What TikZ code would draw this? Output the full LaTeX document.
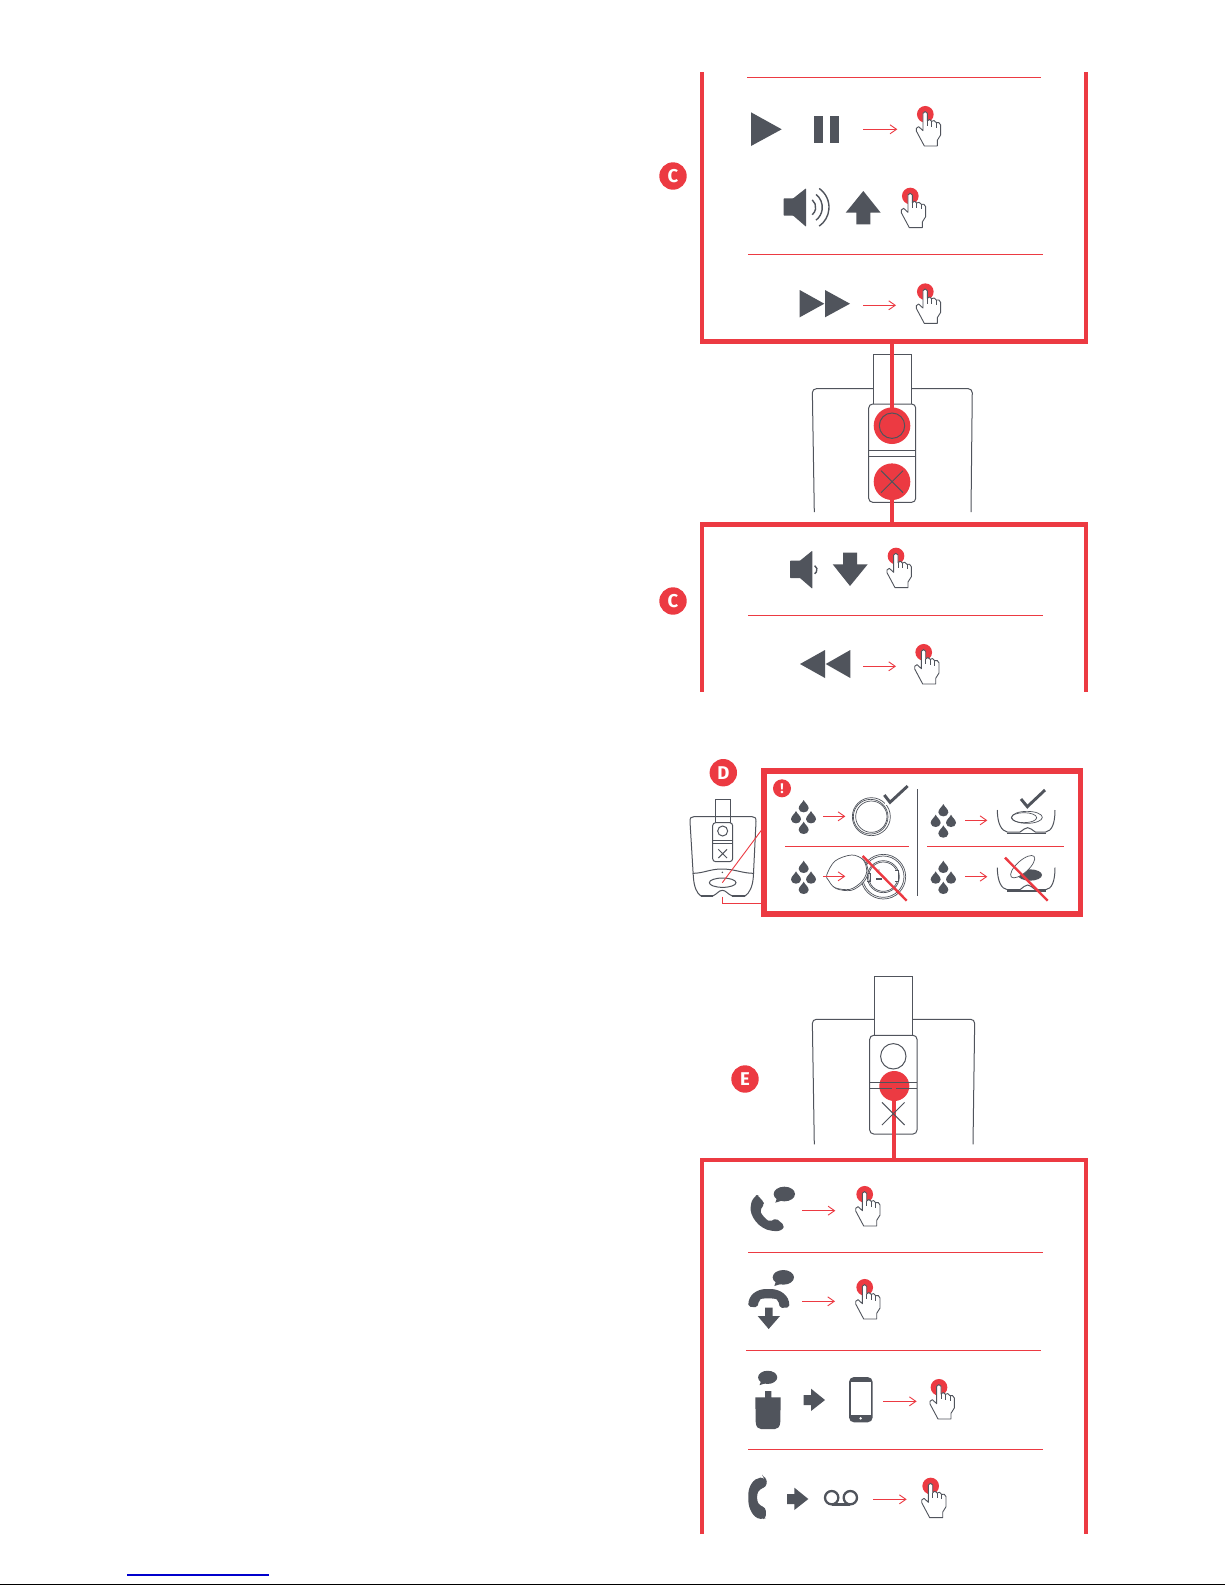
\documentclass[tikz,border=0pt]{standalone}
\usepackage{fontspec}
\setmainfont{Fira Sans}
\usetikzlibrary{arrows.meta}
\definecolor{rd}{HTML}{EC3A42}
\definecolor{gy}{HTML}{50545C}
\tikzset{
  frame/.style={draw=rd,line width=4.4pt,miter limit=10},
  sep/.style={draw=rd,line width=1pt},
  link/.style={draw=rd,line width=4pt},
  flowarrow/.style={draw=rd,line width=1pt,-{Straight Barb[length=6.5pt,width=9pt,line width=0.9pt]}},
  thin line/.style={draw=gy,line width=1pt},
  fine line/.style={draw=gy,line width=0.7pt},
  tick/.style={draw=gy,line width=2.9pt,line join=miter},
  wave/.style={draw=gy,line width=1.4pt},
  badge/.style={circle,fill=rd,text=white,inner sep=0pt,minimum size=27.4pt,font=\bfseries\fontsize{18.5}{18.5}\selectfont},
  strike/.style={draw=rd,line width=2.4pt},
}
% hand whose red dot is centred at x,y
\newcommand\handicon[2]{%
  \begin{scope}[shift={(#1,#2)},scale=1/3]
    \fill[rd] (0,0) circle (25);
    \draw[gy,line width=0.9pt,fill=white,line join=round]
      (-3,95) -- (-27,50) -- (-27,42) -- (-20,37) -- (-7,49) -- (-7,-3)
      .. controls (-6,-10) and (5,-10) .. (6,-3) -- (6,20)
      .. controls (8,14) and (18,14) .. (19,21)
      .. controls (22,17) and (31,18) .. (33,25)
      .. controls (37,22) and (45,25) .. (46,32)
      -- (46,62) -- (36,78) -- (36,95) -- cycle;
    \draw[gy,line width=0.9pt] (6,20) -- (6,36) (19,21) -- (19,37) (33,25) -- (33,40);
  \end{scope}}
\newcommand\flow[4]{%
  \coordinate (#1a) at (#2,#4);
  \coordinate (#1b) at (#3,#4);
  \draw[flowarrow] (#1a) -- (#1b);}
\newcommand\dropicon[2]{%
  \fill[gy,shift={(#1,#2)}] (0,-20) .. controls (3,-12) and (15,-5) .. (15,5)
    .. controls (15,13) and (7,17) .. (0,17)
    .. controls (-7,17) and (-15,13) .. (-15,5)
    .. controls (-15,-5) and (-3,-12) .. cycle;}
\newcommand\bubble[3]{% centre x,y ; scale
  \begin{scope}[shift={(#1,#2)},scale=#3]
    \fill[gy] (0,0) ellipse (32 and 22);
    \fill[gy] (-22,12) -- (-27,26) -- (-8,20) -- cycle;
  \end{scope}}
\newcommand\fatarrow[2]{% left x, centre y in px*3 scope
  \fill[gy,shift={(#1,#2)}] (0,-15) -- (22,-15) -- (22,-34) -- (64,0) -- (22,33) -- (22,15) -- (0,15) -- cycle;}
\begin{document}
\begin{tikzpicture}[x=1pt,y=-1pt]
\useasboundingbox (0,0) rectangle (1225,1585);
\fill[white] (0,0) rectangle (1225,1585);

% ---------- first frame ----------
\coordinate (f1a) at (702,72);
\coordinate (f1b) at (702,341.5);
\coordinate (f1c) at (1086,341.5);
\coordinate (f1d) at (1086,72);
\draw[frame] (f1a) -- (f1b) -- (f1c) -- (f1d);
\node[badge] (bc1) at (673,176) {C};
\draw[sep] (747,77.3) -- (1041,77.3);
\draw[sep] (748,254.3) -- (1043,254.3);
\fill[gy] (751,112.3) -- (781.7,129.3) -- (751,146) -- cycle;
\fill[gy] (814,116) rectangle (823,143);
\fill[gy] (830,116) rectangle (839,143);
\flow{p1}{863}{897.3}{129.3}
\handicon{925.3}{114.3}
% volume up
\fill[gy,rounded corners=0.6pt] (783.7,198.3) -- (793.3,198.3) -- (806,188.3) -- (806,226.7) -- (793.3,215.7) -- (783.7,215.7) -- cycle;
\draw[wave] (806,207.3) ++(-50:9.7) arc (-50:50:9.7);
\draw[wave] (806,207.3) ++(-52:16.3) arc (-52:52:16.3);
\draw[wave] (806,207.3) ++(-55:23) arc (-55:55:23);
\fill[gy] (863.3,191) -- (880.7,212.7) -- (870.3,212.7) -- (870.3,224.3) -- (856.3,224.3) -- (856.3,212.7) -- (845.7,212.7) -- cycle;
\handicon{910.3}{196}
% fast forward
\fill[gy] (799.7,290) -- (824.3,303.7) -- (799.7,317.3) -- cycle;
\fill[gy] (825,290) -- (850,303.7) -- (825,317.3) -- cycle;
\flow{p2}{863}{896}{305.3}
\handicon{925.3}{291.7}

% ---------- first device ----------
\draw[thin line,rounded corners=4pt] (814.3,512) -- (812.3,388.7) -- (972.3,388.7) -- (971,512);
\draw[thin line,fill=white] (873.3,404) -- (873.3,354.3) -- (911.7,354.3) -- (911.7,404);
\draw[thin line,fill=white,rounded corners=4pt] (868.7,404) rectangle (915.7,502.3);
\draw[thin line] (868.7,450.3) -- (915.7,450.3) (868.7,456.3) -- (915.7,456.3);
\node[circle,fill=rd,minimum size=36.6pt,inner sep=0pt] (b1) at (892,425.7) {};
\node[circle,fill=rd,minimum size=36.6pt,inner sep=0pt] (b2) at (892,481.7) {};
\draw[link] (892,341.5) -- (b1.center);
\draw[thin line] (b1) circle (12.7);
\draw[thin line] (881,470.7) -- (903,492.7) (903,470.7) -- (881,492.7);

% ---------- second frame ----------
\coordinate (f2a) at (702,691.7);
\coordinate (f2b) at (702,524.5);
\coordinate (f2c) at (1086,524.5);
\coordinate (f2d) at (1086,691.7);
\draw[link] (b2.south) -- (892,524.5);
\draw[frame] (f2a) -- (f2b) -- (f2c) -- (f2d);
\node[badge] (bc2) at (673,601) {C};
\fill[gy,rounded corners=0.6pt] (790,560.7) -- (800,560.7) -- (812.3,550.7) -- (812.3,588.7) -- (800,578) -- (790,578) -- cycle;
\draw[wave] (812.3,569.7) ++(-60:4.7) arc (-60:60:4.7);
\fill[gy] (850,586) -- (867.7,564.3) -- (857,564.3) -- (857,552.7) -- (843,552.7) -- (843,564.3) -- (832.7,564.3) -- cycle;
\handicon{896}{556}
\draw[sep] (748,615.7) -- (1043,615.7);
\fill[gy] (800,664) -- (825,650) -- (825,678) -- cycle;
\fill[gy] (825.7,664) -- (850.3,650) -- (850.3,678) -- cycle;
\flow{p3}{863}{896}{666.3}
\handicon{923.7}{652.3}

% ---------- section D ----------
\node[badge] (bd) at (723.3,772.7) {D};
\begin{scope}[shift={(670,750)},scale=1/3]
  % small device
  \draw[thin line] (60,215) .. controls (60,203) and (63,200) .. (72,200) -- (246,200)
     .. controls (255,200) and (258,203) .. (258,215) -- (250,380)
     .. controls (248,410) and (238,430) .. (225,438) -- (187,438)
     .. controls (172,432) and (168,421) .. (157,421) .. controls (146,421) and (142,432) .. (128,438)
     -- (93,438) .. controls (80,430) and (72,410) .. (70,380) -- cycle;
  \draw[gy,line width=1.3pt] (93,438) -- (128,438) (187,438) -- (225,438);
  \draw[thin line] (68,370) .. controls (100,370) and (120,357) .. (155,357) .. controls (196,357) and (216,370) .. (252,370);
  \fill[gy] (157,367) circle (2.5);
  \draw[thin line] (135,218) -- (135,148) -- (182,148) -- (182,218);
  \draw[thin line,fill=white,rounded corners=3pt] (128,218) rectangle (188,335);
  \draw[thin line] (128,272) -- (188,272) (128,280) -- (188,280);
  \draw[thin line] (158,243) circle (15);
  \draw[thin line] (145,298) -- (171,324) (171,298) -- (145,324);
  \draw[thin line] (158,398) ellipse (40 and 14);
  \coordinate (ov) at (157,398);
  \coordinate (fl) at (277,237);
  \draw[rd,line width=0.9pt] (ov) -- (fl);
  \coordinate (elb1) at (157,440);
  \coordinate (elb2) at (157,460);
  \coordinate (elb3) at (277,460);
  \draw[rd,line width=0.9pt] (elb1) -- (elb2) -- (elb3);
  % frame
  \draw[draw=rd,line width=5.5pt,fill=white] (281.5,63) rectangle (1231,492);
  \node[circle,fill=rd,text=white,inner sep=0pt,minimum size=18pt,font=\bfseries\fontsize{14}{14}\selectfont] (ex) at (336,115) {!};
  % drops
  \dropicon{401}{170}\dropicon{378}{203}\dropicon{423}{203}\dropicon{401}{235}
  \dropicon{401}{352}\dropicon{378}{384}\dropicon{423}{384}\dropicon{401}{415}
  \dropicon{820}{182}\dropicon{797}{214}\dropicon{843}{214}\dropicon{820}{246}
  \dropicon{820}{352}\dropicon{797}{384}\dropicon{843}{384}\dropicon{820}{415}
  \draw[thin line] (742,117) -- (742,437);
  \draw[sep] (345,289) -- (717,289);
  \draw[sep] (771,289) -- (1182,289);
  % ring with check
  \draw[fine line] (604,200) circle (57);
  \draw[fine line] (604,200) circle (47);
  \draw[fine line] (602,200) circle (52);
  \fill[white] (645,128) rectangle (672,165);
  \draw[tick] (643,135) -- (660,157) -- (713,108);
  \flow{d1}{459}{526}{199}
  % bowl with check
  \draw[thin line] (982,180) .. controls (982,222) and (995,243) .. (1012,246) -- (1050,246) .. controls (1060,240) and (1065,233) .. (1073,233) .. controls (1081,233) and (1086,240) .. (1096,246) -- (1127,246) .. controls (1145,243) and (1155,222) .. (1155,180);
  \draw[gy,line width=1.6pt] (1012,250) -- (1127,250);
  \draw[fine line] (1062,203) ellipse (38 and 15);
  \draw[fine line] (1071,202) ellipse (46 and 18);
  \draw[tick] (1053,147) -- (1072,170) -- (1125,120);
  \flow{d2}{885}{952}{211}
  % open cap and its base
  \draw[fine line] (640,380) circle (67);
  \draw[fine line] (640,380) circle (62);
  \draw[fine line] (640,380) circle (48);
  \draw[fine line] (640,380) circle (44);
  \draw[fine line] (590,370) -- (600,370) -- (600,395) -- (590,395);
  \draw[fine line,fill=white] (675,360) -- (685,360) -- (685,395) -- (675,395);
  \fill[gy] (619,385) rectangle (635,390);
  \fill[gy] (627,360) circle (2);
  \draw[fine line,fill=white,shift={(4,3)}] plot[smooth cycle,tension=0.55] coordinates {(470,375) (495,333) (545,315) (580,330) (590,365) (575,395) (540,418) (495,413) (475,390)};
  \draw[fine line,fill=white] plot[smooth cycle,tension=0.55] coordinates {(470,375) (495,333) (545,315) (580,330) (590,365) (575,395) (540,418) (495,413) (475,390)};
  \flow{d3}{459}{526}{379}
  \draw[strike] (578,318) -- (710,452);
  % bowl with tilted lens
  \draw[thin line] (982,353) .. controls (982,395) and (995,417) .. (1012,419) -- (1050,419) .. controls (1060,412) and (1065,405) .. (1073,405) .. controls (1081,405) and (1086,412) .. (1096,419) -- (1127,419) .. controls (1145,417) and (1155,395) .. (1155,353);
  \draw[gy,line width=1.6pt] (1012,423) -- (1127,423);
  \fill[gy] (1080,375) ellipse (36 and 17);
  \draw[fine line,fill=white,rotate around={42:(1058,350)}] (1058,350) ellipse (46 and 18);
  \flow{d4}{885}{952}{380}
  \draw[strike] (1005,323) -- (1133,452);
\end{scope}

% ---------- section E ----------
\node[badge] (be) at (745,1079) {E};
\draw[thin line,rounded corners=4pt] (814.3,1144.3) -- (812.3,1019.3) -- (974.7,1019.3) -- (973,1144.3);
\draw[thin line,fill=white] (874,1034.7) -- (874,976.7) -- (912.3,976.7) -- (912.3,1034.7);
\draw[thin line,fill=white,rounded corners=4pt] (869.7,1035.3) rectangle (917,1134);
\draw[thin line] (893.3,1056.3) circle (12.7);
\node[circle,fill=rd,minimum size=30pt,inner sep=0pt] (b3) at (894.3,1086) {};
\draw[thin line] (869.7,1082.3) -- (917,1082.3) (869.7,1088.3) -- (917,1088.3);
\coordinate (f3a) at (702,1534);
\coordinate (f3b) at (702,1160);
\coordinate (f3c) at (1086,1160);
\coordinate (f3d) at (1086,1534);
\draw[link] (b3.center) -- (894.3,1160);
\draw[frame] (f3a) -- (f3b) -- (f3c) -- (f3d);
\draw[thin line] (882,1102.4) -- (904.6,1125) (904.6,1102.4) -- (882,1125);

\begin{scope}[shift={(700,1170)},scale=1/3]
  % phone with speech bubble
  \fill[gy,rounded corners=2pt] (172,75) -- (191,96) -- (192,103) -- (180,122)
    .. controls (186,135) and (198,148) .. (210,155) -- (228,145) -- (252,165)
    .. controls (250,178) and (238,184) .. (222,183)
    .. controls (175,178) and (148,135) .. (153,105)
    .. controls (155,92) and (162,82) .. cycle;
  \bubble{253}{72}{1}
  \flow{e1}{306}{406}{122}
  \draw[sep] (144,247) -- (1029,247);
  % hang up
  \bubble{250}{322}{1}
  \fill[gy,rounded corners=2pt] (145,410) .. controls (145,375) and (170,357) .. (205,357)
    .. controls (240,357) and (268,375) .. (268,412) -- (240,414) -- (235,392)
    .. controls (225,384) and (185,384) .. (177,392) -- (172,412) -- cycle;
  \fill[gy] (195,413) -- (218,413) -- (218,438) -- (240,438) -- (206,477) -- (173,438) -- (195,438) -- cycle;
  \flow{e2}{306}{405}{394}
  \draw[sep] (138,541) -- (1023,541);
\end{scope}
\handicon{864.7}{1194.3}
\handicon{864.7}{1287.3}

\begin{scope}[shift={(700,1340)},scale=1/3]
  % headset to phone
  \bubble{203}{112}{0.9}
  \fill[gy] (214,153) -- (195,153) -- (195,172) -- (166,172) -- (167,245)
    .. controls (168,262) and (175,267) .. (183,267) -- (225,267)
    .. controls (232,267) and (240,262) .. (241,245) -- (242,172) -- (214,172) -- cycle;
  \fatarrow{311}{180}
  \fill[gy,rounded corners=5pt] (447,111) rectangle (518,247);
  \fill[white] (454,127) rectangle (512,224);
  \fill[white] (482,235) circle (4);
  \flow{e3}{549}{650}{184}
  \draw[sep] (144,328) -- (1029,328);
  % phone to voicemail
  \fill[gy,rounded corners=3pt] (190,412) -- (201,416) -- (199,440) -- (180,447)
    .. controls (170,462) and (170,482) .. (180,497) -- (197,503) -- (198,534) -- (190,537)
    .. controls (160,535) and (145,505) .. (145,472)
    .. controls (145,440) and (160,415) .. cycle;
  \fatarrow{261}{477}
  \draw[gy,line width=2.3pt] (395,473) circle (20);
  \draw[gy,line width=2.3pt] (451,473) circle (20);
  \draw[gy,line width=2.3pt] (395,493) -- (451,493);
  \flow{e4}{519}{620}{478}
\end{scope}
\handicon{939}{1387.3}
\handicon{930.7}{1486}

% ---------- page foot rules ----------
\draw[draw={rgb,255:red,0;green,0;blue,204},line width=1.2pt] (127,1575) -- (268.7,1575);
\draw[black,line width=1.4pt] (0,1584.3) -- (1225,1584.3);
\end{tikzpicture}
\end{document}
